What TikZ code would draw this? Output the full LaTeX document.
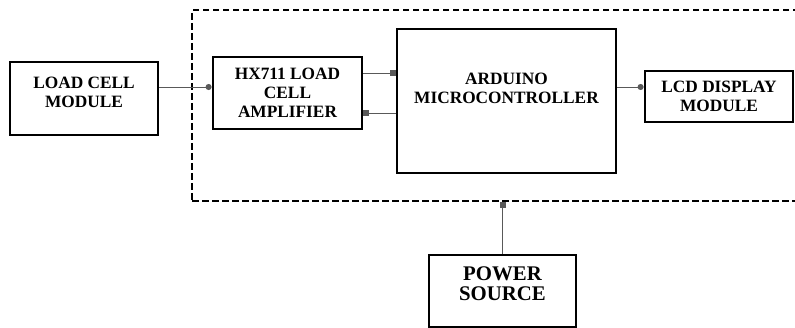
\documentclass[tikz,border=0pt]{standalone}
\usepackage{fontspec}
\setmainfont{Liberation Serif}
\usetikzlibrary{arrows.meta,calc}
\begin{document}
\begin{tikzpicture}[x=1pt,y=-1pt,
  blk/.style={draw=black,line width=2.8pt,rectangle,inner sep=0pt,align=center,
    font=\fontsize{17.3}{19}\selectfont\bfseries},
  conn/.style={draw=black!65,line width=1pt,-{Circle[length=6pt,width=6pt]}},
  connsq/.style={draw=black!65,line width=1pt,-{Square[length=5.5pt,width=6pt]}}]
\useasboundingbox (0,0) rectangle (795,327);
\begin{scope}
\clip (0,0) rectangle (795,327);
\node[draw=black,line width=2.8pt,dash pattern=on 6.5pt off 3.5pt,minimum width=618pt,minimum height=191pt,inner sep=0pt] (sys) at (501,105.5) {};
\end{scope}
\node[blk,minimum width=148pt,minimum height=73pt] (load) at (84,98.5) {LOAD CELL\\MODULE\\[-6pt]~};
\node[blk,minimum width=149pt,minimum height=72pt] (hx) at (287.5,93) {HX711 LOAD\\CELL\\AMPLIFIER};
\node[blk,minimum width=219pt,minimum height=144pt] (ard) at (506.5,101) {ARDUINO\\MICROCONTROLLER\\[-6pt]~\\[-6pt]~};
\node[blk,minimum width=148pt,minimum height=51pt] (lcd) at (719,96.5) {LCD DISPLAY\\MODULE};
\node[blk,minimum width=147pt,minimum height=72pt,font=\fontsize{20.8}{20}\selectfont\bfseries] (pwr) at (502.5,291) {POWER\\SOURCE\\[-6pt]~};
\draw[conn] ([yshift=11.5pt]load.east) -- ([yshift=11.5pt]load.east -| hx.west);
\draw[connsq] ([yshift=20pt]hx.east) -- ([yshift=20pt]hx.east -| ard.west);
\draw[connsq] ([yshift=-20pt]hx.east -| ard.west) -- ([yshift=-20pt]hx.east);
\draw[conn] ([yshift=14pt]ard.east) -- ([yshift=14pt]ard.east -| lcd.west);
\draw[connsq] (pwr.north) -- (pwr.north |- sys.south);
\end{tikzpicture}
\end{document}
